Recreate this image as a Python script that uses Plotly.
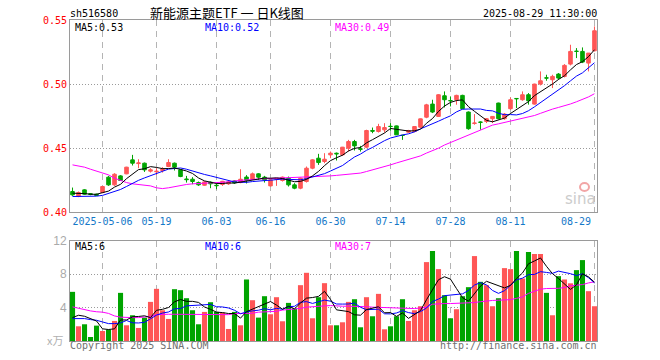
import plotly.graph_objects as go
import pandas as pd

# ---------------- data ----------------
dates = [
    "2025-04-24", "2025-04-25", "2025-04-28", "2025-04-29", "2025-04-30",
    "2025-05-06", "2025-05-07", "2025-05-08", "2025-05-09",
    "2025-05-12", "2025-05-13", "2025-05-14", "2025-05-15", "2025-05-16",
    "2025-05-19", "2025-05-20", "2025-05-21", "2025-05-22", "2025-05-23",
    "2025-05-26", "2025-05-27", "2025-05-28", "2025-05-29", "2025-05-30",
    "2025-06-03", "2025-06-04", "2025-06-05", "2025-06-06",
    "2025-06-09", "2025-06-10", "2025-06-11", "2025-06-12", "2025-06-13",
    "2025-06-16", "2025-06-17", "2025-06-18", "2025-06-19", "2025-06-20",
    "2025-06-23", "2025-06-24", "2025-06-25", "2025-06-26", "2025-06-27",
    "2025-06-30", "2025-07-01", "2025-07-02", "2025-07-03", "2025-07-04",
    "2025-07-07", "2025-07-08", "2025-07-09", "2025-07-10", "2025-07-11",
    "2025-07-14", "2025-07-15", "2025-07-16", "2025-07-17", "2025-07-18",
    "2025-07-21", "2025-07-22", "2025-07-23", "2025-07-24", "2025-07-25",
    "2025-07-28", "2025-07-29", "2025-07-30", "2025-07-31", "2025-08-01",
    "2025-08-04", "2025-08-05", "2025-08-06", "2025-08-07", "2025-08-08",
    "2025-08-11", "2025-08-12", "2025-08-13", "2025-08-14", "2025-08-15",
    "2025-08-18", "2025-08-19", "2025-08-20", "2025-08-21", "2025-08-22",
    "2025-08-25", "2025-08-26", "2025-08-27", "2025-08-28", "2025-08-29",
]

open_ = [
    0.4162, 0.4123, 0.4175, 0.4145, 0.4141, 0.4154, 0.4274, 0.4214, 0.4284, 0.4300,
    0.4409, 0.4380, 0.4383, 0.4321, 0.4316, 0.4326, 0.4357, 0.4383, 0.4331, 0.4260,
    0.4258, 0.4232, 0.4211, 0.4235, 0.4211, 0.4217, 0.4222, 0.4245, 0.4232, 0.4275,
    0.4258, 0.4300, 0.4274, 0.4206, 0.4258, 0.4248, 0.4266, 0.4214, 0.4188, 0.4240,
    0.4344, 0.4422, 0.4396, 0.4448, 0.4461, 0.4448, 0.4500, 0.4552, 0.4495, 0.4508,
    0.4638, 0.4630, 0.4643, 0.4671, 0.4674, 0.4601, 0.4625, 0.4630, 0.4664, 0.4742,
    0.4844, 0.4748, 0.4909, 0.4872, 0.4878, 0.4912, 0.4782, 0.4693, 0.4704, 0.4709,
    0.4730, 0.4852, 0.4730, 0.4808, 0.4888, 0.4878, 0.4917, 0.4844, 0.5000, 0.5049,
    0.5034, 0.5078, 0.5060, 0.5156, 0.5257, 0.5255, 0.5164, 0.5260,
]
high = [
    0.4193, 0.4162, 0.4180, 0.4150, 0.4146, 0.4204, 0.4284, 0.4305, 0.4290, 0.4355,
    0.4448, 0.4414, 0.4388, 0.4344, 0.4344, 0.4352, 0.4414, 0.4388, 0.4336, 0.4284,
    0.4274, 0.4240, 0.4242, 0.4240, 0.4227, 0.4245, 0.4245, 0.4250, 0.4336, 0.4290,
    0.4310, 0.4305, 0.4284, 0.4258, 0.4266, 0.4279, 0.4279, 0.4227, 0.4271, 0.4357,
    0.4414, 0.4456, 0.4461, 0.4474, 0.4466, 0.4510, 0.4565, 0.4565, 0.4518, 0.4644,
    0.4661, 0.4690, 0.4695, 0.4695, 0.4677, 0.4604, 0.4643, 0.4672, 0.4732, 0.4846,
    0.4878, 0.4922, 0.4943, 0.4904, 0.4917, 0.4917, 0.4787, 0.4766, 0.4709, 0.4735,
    0.4750, 0.4855, 0.4774, 0.4896, 0.4891, 0.4943, 0.4930, 0.5003, 0.5099, 0.5073,
    0.5073, 0.5086, 0.5156, 0.5307, 0.5281, 0.5286, 0.5242, 0.5450,
]
low = [
    0.4128, 0.4118, 0.4136, 0.4133, 0.4128, 0.4149, 0.4206, 0.4206, 0.4245, 0.4297,
    0.4365, 0.4344, 0.4315, 0.4310, 0.4292, 0.4310, 0.4352, 0.4326, 0.4274, 0.4232,
    0.4219, 0.4206, 0.4206, 0.4188, 0.4180, 0.4206, 0.4214, 0.4222, 0.4227, 0.4225,
    0.4253, 0.4253, 0.4232, 0.4201, 0.4206, 0.4240, 0.4201, 0.4180, 0.4180, 0.4232,
    0.4336, 0.4370, 0.4383, 0.4422, 0.4404, 0.4440, 0.4474, 0.4482, 0.4474, 0.4500,
    0.4617, 0.4622, 0.4622, 0.4638, 0.4604, 0.4565, 0.4620, 0.4625, 0.4656, 0.4734,
    0.4774, 0.4745, 0.4818, 0.4826, 0.4839, 0.4805, 0.4644, 0.4683, 0.4644, 0.4696,
    0.4696, 0.4725, 0.4722, 0.4800, 0.4813, 0.4870, 0.4840, 0.4840, 0.4990, 0.5026,
    0.4969, 0.5034, 0.5052, 0.5146, 0.5203, 0.5164, 0.5099, 0.5255,
]
close = [
    0.4136, 0.4154, 0.4141, 0.4140, 0.4131, 0.4201, 0.4214, 0.4297, 0.4248, 0.4352,
    0.4383, 0.4385, 0.4331, 0.4331, 0.4320, 0.4336, 0.4388, 0.4352, 0.4279, 0.4255,
    0.4240, 0.4214, 0.4237, 0.4222, 0.4208, 0.4242, 0.4237, 0.4230, 0.4258, 0.4250,
    0.4300, 0.4274, 0.4253, 0.4253, 0.4263, 0.4274, 0.4214, 0.4188, 0.4266, 0.4344,
    0.4409, 0.4388, 0.4414, 0.4461, 0.4456, 0.4508, 0.4552, 0.4518, 0.4492, 0.4638,
    0.4633, 0.4669, 0.4661, 0.4669, 0.4604, 0.4599, 0.4638, 0.4669, 0.4729, 0.4838,
    0.4782, 0.4917, 0.4878, 0.4870, 0.4912, 0.4808, 0.4652, 0.4696, 0.4702, 0.4730,
    0.4748, 0.4730, 0.4766, 0.4878, 0.4886, 0.4917, 0.4870, 0.5000, 0.5026, 0.5047,
    0.5060, 0.5047, 0.5146, 0.5255, 0.5255, 0.5172, 0.5242, 0.5416,
]
# volume (万)
volume = [
    5.88, 1.76, 2.00, 0.48, 1.84, 1.20, 1.36, 2.40, 5.76, 1.88,
    3.08, 1.56, 2.80, 4.68, 6.24, 3.68, 2.64, 6.20, 6.08, 5.12,
    3.68, 2.00, 3.48, 4.64, 3.48, 3.40, 1.44, 3.48, 1.88, 7.36,
    4.88, 2.80, 5.36, 3.20, 5.24, 2.36, 4.56, 3.88, 6.68, 8.16,
    2.72, 5.24, 6.92, 1.88, 1.88, 2.24, 4.68, 5.00, 1.64, 5.24,
    2.96, 5.64, 1.40, 1.76, 2.96, 5.00, 2.40, 3.68, 4.16, 9.44,
    10.76, 8.60, 5.48, 2.72, 3.80, 5.36, 6.44, 10.16, 7.08, 6.68,
    4.16, 5.12, 8.72, 8.60, 10.76, 7.48, 10.64, 10.40, 10.40, 5.76,
    3.08, 7.76, 7.36, 6.90, 8.48, 9.68, 5.96, 4.16,
]

ma5_head = [0.4149, 0.4149, 0.4146, 0.4141]
ma10_head = [0.4123, 0.4123, 0.4124, 0.4125, 0.4126, 0.4132, 0.4148, 0.4165, 0.4178]
ma30_price = [
    0.4370, 0.4362, 0.4352, 0.4336, 0.4323, 0.4310, 0.4292, 0.4266, 0.4248, 0.4232,
    0.4222, 0.4217, 0.4214, 0.4206, 0.4191, 0.4185, 0.4191, 0.4201, 0.4211, 0.4217,
    0.4222, 0.4224, 0.4227, 0.4228, 0.4230, 0.4232, 0.4237, 0.4245, 0.4250, 0.4255,
    0.4258, 0.4260, 0.4262, 0.4264, 0.4266, 0.4268, 0.4268, 0.4270, 0.4270, 0.4272,
    0.4274, 0.4276, 0.4280, 0.4284, 0.4288, 0.4292, 0.4296, 0.4300, 0.4306, 0.4318,
    0.4330, 0.4344, 0.4358, 0.4370, 0.4385, 0.4400, 0.4414, 0.4425, 0.4440, 0.4462,
    0.4480, 0.4500, 0.4525, 0.4545, 0.4565, 0.4585, 0.4605, 0.4625, 0.4645, 0.4665,
    0.4680, 0.4690, 0.4700, 0.4710, 0.4720, 0.4730, 0.4742, 0.4755, 0.4772, 0.4790,
    0.4805, 0.4818, 0.4830, 0.4845, 0.4862, 0.4880, 0.4900, 0.4925,
]
vol_ma5_head = [2.80, 3.08, 2.96, 2.68]
vol_ma10_head = [2.68, 2.68, 2.68, 2.56, 2.48, 2.28, 2.08, 2.08, 2.16]
vol_ma30 = [
    4.08, 3.90, 3.70, 3.60, 3.50, 3.45, 3.30, 3.00, 2.85, 2.80,
    2.80, 2.80, 2.85, 2.95, 3.15, 3.20, 3.20, 3.20, 3.20, 3.20,
    3.20, 3.20, 3.20, 3.15, 3.12, 3.12, 3.15, 3.28, 3.28, 3.30,
    3.32, 3.45, 3.48, 3.50, 3.55, 3.70, 3.76, 3.80, 3.90, 4.05,
    4.12, 4.16, 4.20, 4.24, 4.18, 4.16, 4.16, 4.16, 4.14, 4.10,
    4.05, 4.00, 4.00, 3.98, 3.95, 3.90, 3.88, 3.88, 3.95, 4.05,
    4.40, 4.48, 4.48, 4.48, 4.50, 4.50, 4.55, 4.60, 4.70, 4.80,
    4.85, 4.88, 4.90, 4.95, 5.10, 5.28, 5.70, 5.95, 6.20, 6.28,
    6.28, 6.30, 6.40, 6.60, 6.68, 6.75, 6.95, 7.08,
]

tick_index = [5, 14, 24, 33, 43, 53, 63, 73, 87]
tick_labels = ["2025-05-06", "05-19", "06-03", "06-16", "06-30", "07-14", "07-28", "08-11", "08-29"]
price_ticks = [0.40, 0.45, 0.50, 0.55]
price_tick_labels = ["0.40", "0.45", "0.50", "0.55"]
vol_ticks = [4, 8, 12]
vol_tick_labels = ["4", "8", "12"]

# ---------------- derived ----------------
def moving_average(values, window, head):
    rolled = pd.Series(values).rolling(window).mean().tolist()
    return list(head) + rolled[len(head):]

ma5 = moving_average(close, 5, ma5_head)
ma10 = moving_average(close, 10, ma10_head)
vol_ma5 = moving_average(volume, 5, vol_ma5_head)
vol_ma10 = moving_average(volume, 10, vol_ma10_head)

RED = "#ff5656"
GREEN = "#00a400"
BLUE_TXT = "#1478c8"
MONO = "DejaVu Sans Mono"
vol_colors = [RED if c >= o else GREEN for o, c in zip(open_, close)]

fig = go.Figure()
fig.add_trace(go.Candlestick(
    x=dates, open=open_, high=high, low=low, close=close,
    increasing=dict(line=dict(color=RED, width=1), fillcolor=RED),
    decreasing=dict(line=dict(color=GREEN, width=1), fillcolor=GREEN),
    whiskerwidth=0, xaxis="x", yaxis="y", showlegend=False, hoverinfo="skip",
))
for series, color in [(ma30_price, "#ff00ff"), (ma10, "#0000ff"), (ma5, "#000000")]:
    fig.add_trace(go.Scatter(x=dates, y=series, mode="lines", line=dict(color=color, width=1),
                             xaxis="x", yaxis="y", showlegend=False, hoverinfo="skip"))

fig.add_trace(go.Bar(x=dates, y=volume, marker=dict(color=vol_colors, line=dict(width=0)),
                     xaxis="x2", yaxis="y2", showlegend=False, hoverinfo="skip"))
for series, color in [(vol_ma30, "#ff00ff"), (vol_ma10, "#0000ff"), (vol_ma5, "#000000")]:
    fig.add_trace(go.Scatter(x=dates, y=series, mode="lines", line=dict(color=color, width=1),
                             xaxis="x2", yaxis="y2", showlegend=False, hoverinfo="skip"))

# page geometry
W, H = 660, 360
PLOT_L, PLOT_R, PLOT_T, PLOT_B = 70, 597, 20, 341
L, T, R, B = PLOT_L, PLOT_T, W - PLOT_R, H - PLOT_B
PW, PH = W - L - R, H - T - B


def px(x):
    return (x - PLOT_L) / PW


def py(y):
    return (PLOT_B - y) / PH


xcommon = dict(
    type="category", range=[-0.42, len(dates) - 1 + 0.42],
    showgrid=True, gridcolor="#b4b4b4", gridwidth=1, griddash="6px,5px",
    showline=True, linecolor="#9a9a9a", linewidth=1, mirror=True,
    ticks="", zeroline=False, fixedrange=True,
)
ycommon = dict(
    showgrid=True, gridcolor="#9a9a9a", gridwidth=1, griddash="1px,2px",
    showline=True, linecolor="#9a9a9a", linewidth=1, mirror=True,
    ticks="", zeroline=False, fixedrange=True,
)

main_bottom = py(212.3)
vol_top = py(240.7)

fig.update_layout(
    width=W, height=H, margin=dict(l=L, r=R, t=T, b=B, autoexpand=False),
    paper_bgcolor="white", plot_bgcolor="white",
    showlegend=False, boxgap=0.15, bargap=0.15,
    xaxis=dict(
        domain=[0, 1], anchor="y", tickmode="array",
        tickvals=[dates[i] for i in tick_index],
        ticktext=tick_labels[:-1] + [""],
        tickfont=dict(family=MONO, size=10, color=BLUE_TXT),
        rangeslider=dict(visible=False), **xcommon,
    ),
    xaxis2=dict(
        domain=[0, 1], anchor="y2", matches="x", tickmode="array",
        tickvals=[dates[i] for i in tick_index], showticklabels=False, **xcommon,
    ),
    yaxis=dict(
        domain=[main_bottom, 1], range=[0.40, 0.55], tickmode="array",
        tickvals=price_ticks, ticktext=price_tick_labels,
        tickfont=dict(family=MONO, size=10, color="#ff0000"), **ycommon,
    ),
    yaxis2=dict(
        domain=[0, vol_top], range=[0, 12], tickmode="array",
        tickvals=vol_ticks, ticktext=vol_tick_labels,
        tickfont=dict(family="Liberation Sans", size=12, color="#aaaaaa"), **ycommon,
    ),
)


def note(text, x, y, xanchor="left", color="#000000", size=10, family=MONO, **kw):
    fig.add_annotation(text=text, x=px(x), y=py(y), xref="paper", yref="paper",
                       xanchor=xanchor, yanchor="middle", showarrow=False, borderpad=0,
                       font=dict(family=family, size=size, color=color), **kw)


note("sh516580", 69, 13)
note("新能源主题ETF\u00a0一\u00a0日K线图", 149, 12, size=13, family="Noto Sans CJK SC")
note("2025-08-29 11:30:00", 598, 13, xanchor="right")
note("MA5:0.53", 74, 27)
note("MA10:0.52", 204, 27, color="#0000ff")
note("MA30:0.49", 334, 27, color="#ff00ff")
note("MA5:6", 74, 246)
note("MA10:6", 204, 246, color="#0000ff")
note("MA30:7", 334, 246, color="#ff00ff")
note(tick_labels[-1], 592, 221, xanchor="right", color=BLUE_TXT)
note("Copyright 2025 SINA.COM", 69, 346, color="#707070")
note("http://finance.sina.com.cn", 598, 346, xanchor="right", color="#707070")
note("x万", 64, 340, xanchor="right", color="#b0b0b0", size=11, family="Noto Sans CJK SC")
note("sina", 597, 199, xanchor="right", color="#cccccc", size=15, family="DejaVu Sans")

# pink "eye" of the sina logo
fig.add_shape(type="circle", xref="paper", yref="paper",
              x0=px(580), x1=px(589), y0=py(191), y1=py(183),
              line=dict(color="#f2a6a6", width=2), fillcolor="rgba(0,0,0,0)")

fig.write_html("out.html", config={"displayModeBar": False},
               post_script="document.body.style.margin='0';")
